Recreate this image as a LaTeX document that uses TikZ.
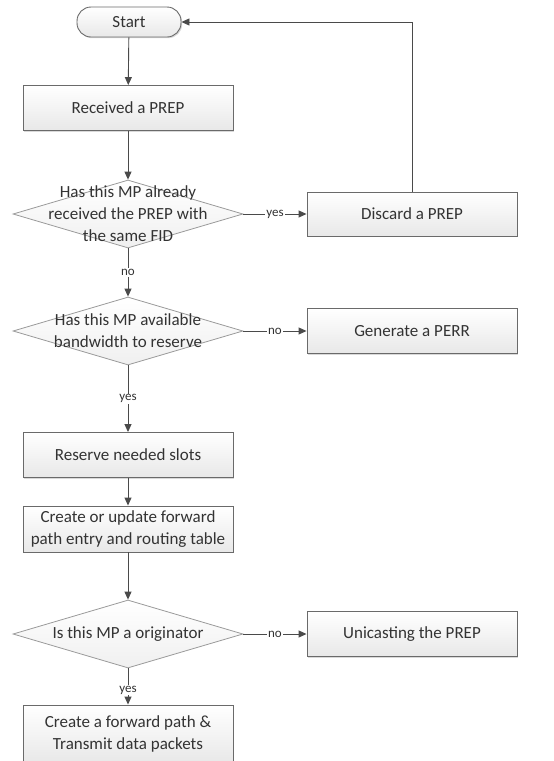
\documentclass[tikz,border=0pt]{standalone}
\usepackage{fontspec}
\setmainfont{Carlito}
\usetikzlibrary{shapes.geometric,shapes.misc,arrows.meta,shadows}
\definecolor{txt}{HTML}{333333}
\definecolor{edge}{HTML}{6A6A6A}
\definecolor{dedge}{HTML}{9A9A9A}
\definecolor{lnc}{HTML}{4A4A4A}
\tikzset{
  base/.style={draw=edge, line width=0.9pt, top color=white, bottom color=black!9,
    drop shadow={shadow xshift=1.2pt, shadow yshift=-1.2pt, fill=black!25, opacity=0.6},
    text=txt, font=\fontsize{17}{22}\selectfont, align=center, inner sep=0pt},
  procbox/.style={base, rectangle, minimum width=210pt, minimum height=45pt},
  term/.style={base, rectangle, rounded corners=14pt, minimum width=104pt, minimum height=30pt},
  decision/.style={draw=dedge, line width=0.8pt, top color=white, bottom color=black!6,
    diamond, minimum width=230pt, minimum height=68pt, inner sep=0pt},
  dtext/.style={text=txt, font=\fontsize{17}{22}\selectfont, align=center},
  conn/.style={draw=lnc, line width=0.9pt, -{Triangle[length=8pt,width=7pt]}},
  lbl/.style={fill=white, text=txt, font=\fontsize{13}{15}\selectfont, inner sep=1pt}
}
\begin{document}
\begin{tikzpicture}[x=1pt,y=-1pt]
\useasboundingbox (0,0) rectangle (554,761);
\node[term] (start) at (129,22) {Start};
\node[procbox] (recv) at (128,108) {Received a PREP};
\node[decision] (d1) at (128,214) {};
\node[dtext] (d1t) at (128,214) {Has this MP already\\received the PREP with\\the same FID};
\node[procbox, minimum height=44pt] (disc) at (412,214) {Discard a PREP};
\node[decision] (d2) at (128,331) {};
\node[dtext] (d2t) at (128,331) {Has this MP available\\bandwidth to reserve};
\node[procbox] (perr) at (412,331) {Generate a PERR};
\node[procbox] (resv) at (128,455) {Reserve needed slots};
\node[procbox, minimum height=46pt] (crt) at (128,529) {Create or update forward\\path entry and routing table};
\node[decision] (d3) at (128,634) {};
\node[dtext] (d3t) at (128,634) {Is this MP a originator};
\node[procbox] (uni) at (412,634) {Unicasting the PREP};
\node[procbox, minimum height=58pt] (fin) at (128,734) {Create a forward path \&\\Transmit data packets};

\draw[conn] (start) -- (recv);
\draw[conn] (recv) -- (d1.north);
\draw[conn] (d1.east) -- node[lbl] {yes} (disc.west);
\draw[conn] (disc.north) |- (start.east);
\draw[conn] (d1.south) -- node[lbl] {no} (d2.north);
\draw[conn] (d2.east) -- node[lbl] {no} (perr.west);
\draw[conn] (d2.south) -- node[lbl] {yes} (resv.north);
\draw[conn] (resv) -- (crt);
\draw[conn] (crt) -- (d3.north);
\draw[conn] (d3.east) -- node[lbl] {no} (uni.west);
\draw[conn] (d3.south) -- node[lbl, pos=0.6] {yes} (fin.north);
\end{tikzpicture}
\end{document}
